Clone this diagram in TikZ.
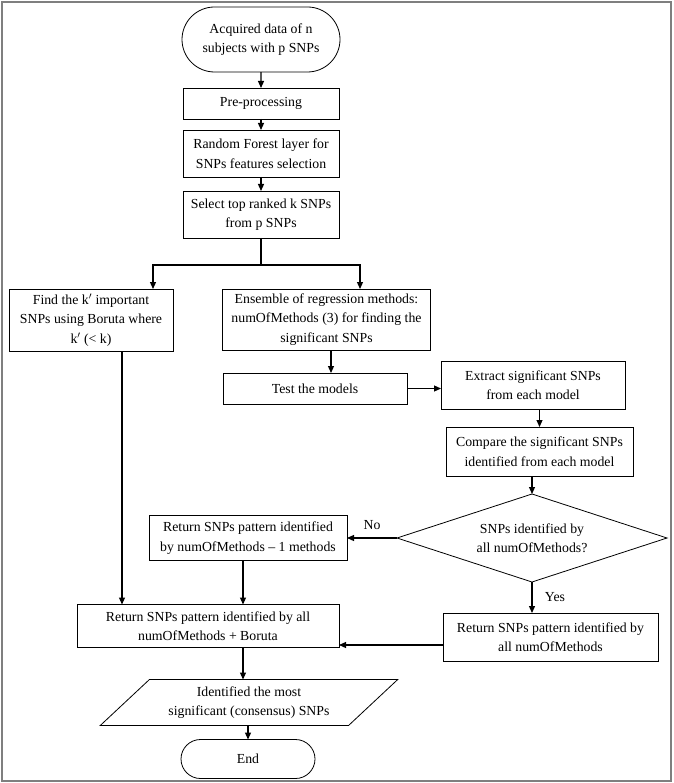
\documentclass[tikz,border=0pt]{standalone}
\usepackage{fontspec}
\setmainfont{Liberation Serif}
\usepackage{tikz}
\usetikzlibrary{positioning, arrows.meta, shapes.geometric, shapes.misc}
\definecolor{FrameGray}{HTML}{7F7F7F}

\begin{document}
\begin{tikzpicture}[x=1pt, y=-1pt,
  every node/.style={font=\fontsize{13.8}{19.5}\selectfont},
  procbox/.style={draw, line width=0.8pt, align=center, inner sep=2pt, outer sep=0pt},
  term/.style={draw, rounded rectangle, line width=0.8pt, align=center, inner sep=2pt,
    outer sep=0pt},
  decide/.style={draw, diamond, aspect=3.07, line width=0.8pt, align=center,
    inner sep=0pt, outer sep=0pt},
  iobox/.style={draw, trapezium, trapezium left angle=39, trapezium right angle=141,
    trapezium stretches=true, line width=0.8pt, align=center, inner sep=0pt,
    outer sep=0pt},
  arr/.style={-{Triangle[length=7pt, width=6pt]}, line width=1.2pt},
  link/.style={line width=1.2pt}
]
  \useasboundingbox (0,0) rectangle (673,783);
  \draw[FrameGray, line width=1.4pt] (2,2) rectangle (671,781);

  % Main column
  \node[term, minimum width=162pt, minimum height=65pt] (start) at (261,39.5)
    {Acquired data of n\\subjects with p SNPs};
  \node[procbox, minimum width=156pt, minimum height=31pt, below=16pt of start] (pre)
    {Pre-processing};
  \node[procbox, minimum width=156pt, minimum height=47pt, below=11pt of pre] (rf)
    {Random Forest layer for\\SNPs features selection};
  \node[procbox, minimum width=156pt, minimum height=47pt, below=14pt of rf] (sel)
    {Select top ranked k SNPs\\from p SNPs};
  \coordinate[below=27pt of sel] (split);

  % Two branches
  \node[procbox, minimum width=164pt, minimum height=62pt, below=51pt of sel,
    xshift=-170pt] (find)
    {Find the k$'$ important\\SNPs using Boruta where\\k$'$ (< k)};
  \node[procbox, minimum width=208pt, minimum height=61pt, below=51pt of sel,
    xshift=65.5pt] (ens)
    {Ensemble of regression methods:\\numOfMethods (3) for finding the\\significant SNPs};
  \node[procbox, minimum width=184pt, minimum height=31pt, below=23pt of ens,
    xshift=-11.5pt] (test) {Test the models};
  \node[procbox, minimum width=184pt, minimum height=48pt, right=34pt of test,
    yshift=3.5pt] (ext) {Extract significant SNPs\\from each model};
  \node[procbox, minimum width=187pt, minimum height=49pt, below=18pt of ext,
    xshift=6.5pt] (cmp) {Compare the significant SNPs\\identified from each model};
  \node[decide, minimum width=270pt, minimum height=88pt, below=18pt of cmp,
    xshift=-7.5pt] (dec) {SNPs identified by\\all numOfMethods?};
  \node[procbox, minimum width=198pt, minimum height=45pt, left=50pt of dec] (retno)
    {Return SNPs pattern identified\\by numOfMethods -- 1 methods};
  \node[procbox, minimum width=215pt, minimum height=48pt, below=31pt of dec,
    xshift=18.5pt] (retyes) {Return SNPs pattern identified by\\all numOfMethods};

  % Merge and end
  \node[procbox, minimum width=262pt, minimum height=43pt, below=44pt of retno,
    xshift=-40pt] (retall)
    {Return SNPs pattern identified by all\\numOfMethods + Boruta};
  \node[iobox, minimum width=298pt, minimum height=46pt, below=32pt of retall,
    xshift=41pt] (out) {Identified the most\\significant (consensus) SNPs};
  \node[term, minimum width=138pt, minimum height=39pt, below=14pt of out,
    xshift=-1pt] (end) {End};

  % Arrows main column
  \draw[arr] (start) -- (pre);
  \draw[arr] (pre) -- (rf);
  \draw[arr] (rf) -- (sel);
  \draw[link] (sel) -- (split);
  \draw[arr] (split) -| ([xshift=62pt]find.north);
  \draw[arr] (split) -| ([xshift=33.5pt]ens.north);

  % Arrows right branch
  \draw[arr] ([xshift=4.5pt]ens.south) -- ([xshift=4.5pt]ens.south |- test.north);
  \draw[arr] (test.east) -- (test.east -| ext.west);
  \draw[arr] (cmp.north |- ext.south) -- (cmp.north);
  \draw[arr] (dec.north |- cmp.south) -- (dec.north);
  \draw[arr] (dec.west) -- (dec.west -| retno.east)
    node[midway, above=4pt] {No};
  \draw[arr] (dec.south) -- (dec.south |- retyes.north)
    node[midway, right=9pt] {Yes};

  % Arrows into the merge box
  \draw[arr] ([xshift=31pt]find.south) -- ([xshift=31pt]find.south |- retall.north);
  \draw[arr] ([xshift=-5pt]retno.south) -- ([xshift=-5pt]retno.south |- retall.north);
  \draw[arr] ([yshift=-8pt]retyes.west) -- ([yshift=-8pt]retyes.west -| retall.east);
  \draw[arr] ([xshift=35pt]retall.south) -- ([xshift=35pt]retall.south |- out.north);
  \draw[arr] (end.north |- out.south) -- (end.north);
\end{tikzpicture}
\end{document}
